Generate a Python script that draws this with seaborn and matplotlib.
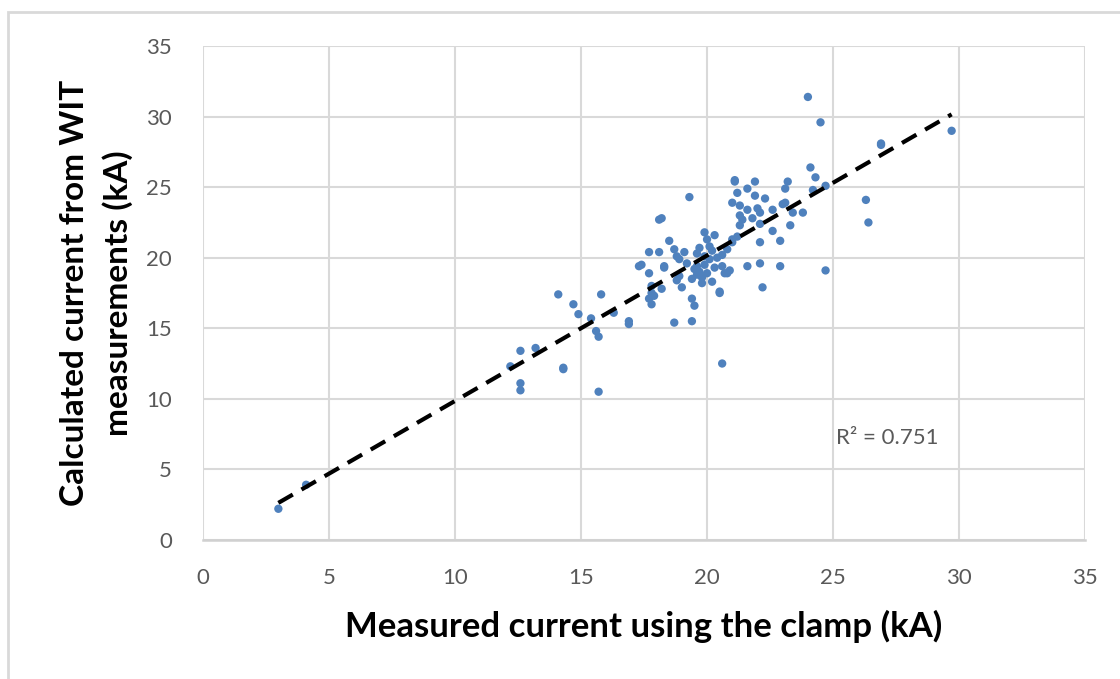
import numpy as np
import pandas as pd
import matplotlib
matplotlib.use("Agg")
import matplotlib.pyplot as plt
import seaborn as sns
from matplotlib.patches import Rectangle

measured = [3.0, 4.1, 12.2, 12.6, 12.6, 12.6, 13.2, 14.3, 14.3, 14.1, 14.7, 14.9, 15.4, 15.6, 15.7,
            15.7, 15.8, 16.3, 16.9, 16.9, 17.3, 17.4, 17.7, 17.7, 17.8, 17.8, 17.7, 17.8, 18.1, 18.1,
            18.2, 18.2, 18.3, 18.3, 18.5, 18.7, 18.8, 18.8, 18.7, 18.9, 18.9, 19.0, 19.1, 19.3, 19.4,
            19.4, 19.5, 19.4, 19.5, 19.6, 19.6, 19.7, 19.7, 19.8, 19.8, 19.9, 19.9, 20.0, 20.1, 20.1,
            20.2, 20.3, 20.3, 20.5, 20.5, 20.6, 20.6, 20.6, 20.7, 20.8, 20.8, 20.9, 21.0, 21.0, 21.0,
            21.1, 21.1, 21.2, 21.2, 21.3, 21.3, 21.3, 21.4, 21.6, 21.6, 21.6, 21.8, 21.9, 21.9, 22.0,
            22.1, 22.1, 22.1, 22.1, 22.2, 22.3, 22.6, 22.6, 22.9, 22.9, 23.0, 23.1, 23.1, 23.2, 23.3,
            23.4, 23.8, 24.0, 24.1, 24.2, 24.3, 24.5, 24.7, 24.7, 26.3, 26.4, 26.9, 26.9, 29.7,
            19.2, 19.9, 20.2, 20.4, 19.6, 20.0, 17.9]
calculated = [2.2, 3.9, 12.3, 11.1, 10.6, 13.4, 13.6, 12.2, 12.1, 17.4, 16.7, 16.0, 15.7, 14.8, 14.4,
              10.5, 17.4, 16.1, 15.5, 15.3, 19.4, 19.5, 18.9, 20.4, 18.0, 17.5, 17.1, 16.7, 20.4, 22.7,
              22.8, 17.8, 19.4, 19.3, 21.2, 20.6, 20.1, 18.4, 15.4, 19.9, 18.7, 17.9, 20.4, 24.3, 17.1,
              15.5, 16.6, 18.5, 19.2, 20.3, 18.8, 20.7, 19.0, 18.2, 18.6, 21.8, 19.5, 21.3, 20.8, 19.9,
              18.3, 21.6, 19.3, 17.5, 17.6, 20.2, 19.4, 12.5, 18.9, 20.6, 18.9, 19.1, 23.9, 21.3, 21.1,
              25.5, 25.4, 24.6, 21.5, 23.7, 23.0, 22.3, 22.7, 24.9, 23.4, 19.4, 22.8, 25.4, 24.4, 23.5,
              23.2, 22.4, 21.1, 19.6, 17.9, 24.2, 23.4, 21.9, 21.2, 19.4, 23.8, 23.9, 24.9, 25.4, 22.3,
              23.2, 23.2, 31.4, 26.4, 24.8, 25.7, 29.6, 25.1, 19.1, 24.1, 22.5, 28.1, 28.0, 29.0,
              19.6, 20.1, 20.5, 20.0, 19.4, 18.9, 17.3]
ticks = [0, 5, 10, 15, 20, 25, 30, 35]
r2_label = "R² = 0.751"
x_label = "Measured current using the clamp (kA)"
y_label = "Calculated current from WIT\nmeasurements (kA)"

df = pd.DataFrame({"measured": measured, "calculated": calculated})

sns.set_theme(style="white")
plt.rcParams['font.family'] = ['Lato', 'DejaVu Sans']

fig = plt.figure(figsize=(11.2, 6.79), dpi=100)
ax = fig.add_axes([0.181, 0.205, 0.788, 0.727])

sns.regplot(data=df, x="measured", y="calculated", ax=ax, ci=None, truncate=True,
            scatter_kws=dict(s=36, color="#4F81BD", edgecolor="none", alpha=1, zorder=3),
            line_kws=dict(color="black", linestyle=(0, (4, 2.4)), linewidth=3, zorder=4))

ax.set_xlim(0, 35)
ax.set_ylim(0, 35)
ax.set_xticks(ticks)
ax.set_yticks(ticks)
ax.grid(True, color="#d9d9d9", linewidth=1.5)
ax.set_axisbelow(True)
for s in ["top", "right", "left"]:
    ax.spines[s].set_visible(False)
ax.spines["bottom"].set_color("#d0d0d0")
ax.spines["bottom"].set_linewidth(1.8)
ax.tick_params(axis="both", length=0, labelsize=16, labelcolor="#595959")
ax.tick_params(axis="x", pad=20)
ax.tick_params(axis="y", pad=22)

ax.set_xlabel(x_label, fontsize=25, fontweight="bold", color="black", labelpad=16)
ax.set_ylabel(y_label, fontsize=24, fontweight="bold", color="black", labelpad=10, linespacing=1.5)

ax.text(25.1, 7.2, r2_label, fontsize=16, color="#595959", ha="left", va="center")

fig.patches.append(Rectangle((0.007, -0.05), 1.05, 1.032, transform=fig.transFigure,
                             fill=False, edgecolor="#d9d9d9", linewidth=2))

fig.savefig("out.png", dpi=100)
